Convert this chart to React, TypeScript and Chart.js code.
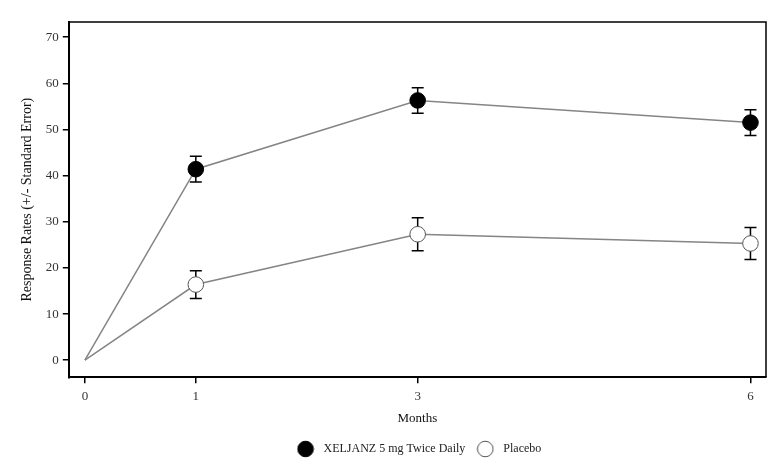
import { useEffect, useRef } from "react"
import { Chart, registerables, type ChartConfiguration, type Plugin } from "chart.js"

Chart.register(...registerables)

const months = [0, 1, 3, 6]
const xeljanzRates = [0, 41.4, 56.3, 51.5]
const xeljanzSE = [0, 2.8, 2.75, 2.8]
const placeboRates = [0, 16.4, 27.3, 25.3]
const placeboSE = [0, 3.0, 3.6, 3.45]
const xTicks = [0, 1, 3, 6]
const yTicks = [0, 10, 20, 30, 40, 50, 60, 70]

const seriesNames = ["XELJANZ 5 mg Twice Daily", "Placebo"]
const errors = [xeljanzSE, placeboSE]
const markerFill = ["#000", "#fff"]
const markerEdge = ["#000", "#555"]

const FONT = "'Liberation Serif', 'Times New Roman', serif"

// little circle icons for the legend so the gap to the text can be wider
function legendIcon(fill: string, edge: string) {
  const c = document.createElement("canvas")
  c.width = 18
  c.height = 18
  const g = c.getContext("2d")!
  g.beginPath()
  g.arc(9, 9, 7.8, 0, Math.PI * 2)
  g.fillStyle = fill
  g.fill()
  g.lineWidth = 1
  g.strokeStyle = edge
  g.stroke()
  return c
}

// error bars under the markers, plus the frame on top/right
const errorBars: Plugin = {
  id: "errorBars",
  beforeDatasetsDraw(chart) {
    const { ctx, scales, chartArea } = chart
    const x = scales.x
    const y = scales.y
    ctx.save()
    ctx.strokeStyle = "#000"
    ctx.lineWidth = 1.5
    ctx.beginPath()
    ctx.moveTo(chartArea.left, chartArea.top)
    ctx.lineTo(chartArea.right, chartArea.top)
    ctx.lineTo(chartArea.right, chartArea.bottom)
    ctx.stroke()

    chart.data.datasets.forEach((ds, i) => {
      const se = errors[i]
      ;(ds.data as { x: number; y: number }[]).forEach((p, j) => {
        if (!se[j]) return
        const px = x.getPixelForValue(p.x)
        const top = y.getPixelForValue(p.y + se[j])
        const bot = y.getPixelForValue(p.y - se[j])
        ctx.lineWidth = 1.5
        ctx.beginPath()
        ctx.moveTo(px, top)
        ctx.lineTo(px, bot)
        ctx.moveTo(px - 6, top)
        ctx.lineTo(px + 6, top)
        ctx.moveTo(px - 6, bot)
        ctx.lineTo(px + 6, bot)
        ctx.stroke()
      })
    })
    ctx.restore()
  },
}

export default function App() {
  const canvasRef = useRef<HTMLCanvasElement>(null)

  useEffect(() => {
    if (!canvasRef.current) return
    Chart.defaults.font.family = FONT
    Chart.defaults.color = "#222"

    const icons = [legendIcon(markerFill[0], markerEdge[0]), legendIcon(markerFill[1], markerEdge[1])]

    const config: ChartConfiguration<"line"> = {
      type: "line",
      data: {
        datasets: [xeljanzRates, placeboRates].map((rates, i) => ({
          label: seriesNames[i],
          data: months.map((m, j) => ({ x: m, y: rates[j] })),
          borderColor: "#858585",
          borderWidth: 1.5,
          pointBackgroundColor: markerFill[i],
          pointBorderColor: markerEdge[i],
          pointBorderWidth: 1,
          pointRadius: months.map((m) => (m === 0 ? 0 : 7.8)),
          tension: 0,
        })),
      },
      options: {
        responsive: true,
        maintainAspectRatio: false,
        animation: false,
        layout: { padding: { top: 22, right: 10, left: 10, bottom: -2 } },
        scales: {
          x: {
            type: "linear",
            min: -0.145,
            max: 6.14,
            afterBuildTicks: (axis) => {
              axis.ticks = xTicks.map((v) => ({ value: v }))
            },
            ticks: { font: { size: 13 }, color: "#333", padding: 5 },
            grid: {
              drawOnChartArea: false,
              tickLength: 6,
              color: "#000",
              lineWidth: 1.5,
            },
            border: { display: true, color: "#000", width: 2 },
            title: {
              display: true,
              text: "Months",
              font: { size: 13 },
              color: "#111",
              padding: { top: 2, bottom: 8.5 },
            },
          },
          y: {
            type: "linear",
            min: -3.7,
            max: 73.3,
            afterBuildTicks: (axis) => {
              axis.ticks = yTicks.map((v) => ({ value: v }))
            },
            ticks: { font: { size: 13 }, color: "#333", padding: 4 },
            grid: {
              drawOnChartArea: false,
              tickLength: 6,
              color: "#000",
              lineWidth: 1.5,
            },
            border: { display: true, color: "#000", width: 2 },
            title: {
              display: true,
              text: "Response Rates (+/- Standard Error)",
              font: { size: 14 },
              color: "#111",
              padding: { top: 9, bottom: 6 },
            },
          },
        },
        plugins: {
          legend: {
            position: "bottom",
            fullSize: false,
            labels: {
              usePointStyle: true,
              pointStyleWidth: 24,
              font: { size: 12 },
              color: "#222",
              padding: 8,
              generateLabels: (chart) =>
                Chart.defaults.plugins.legend.labels
                  .generateLabels(chart)
                  .map((item, i) => ({ ...item, pointStyle: icons[i] })),
            },
          },
          tooltip: { enabled: false },
        },
      },
      plugins: [errorBars],
    }

    const chart = new Chart(canvasRef.current, config)
    return () => chart.destroy()
  }, [])

  return (
    <div style={{ position: "absolute", left: 0, top: 0, width: 776, height: 463, background: "#fff" }}>
      <canvas ref={canvasRef} />
    </div>
  )
}
